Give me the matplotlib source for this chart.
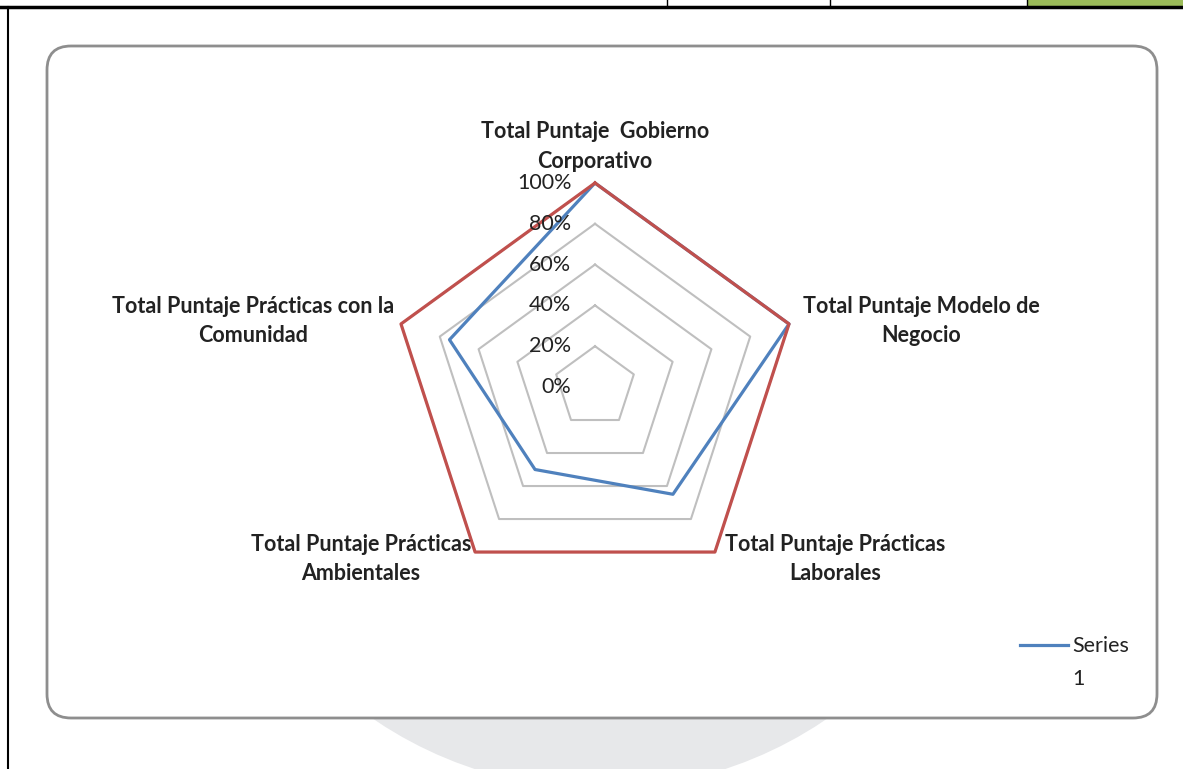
import numpy as np
import matplotlib.pyplot as plt
from matplotlib.patches import FancyBboxPatch, Circle, Rectangle

plt.rcParams['font.family'] = ['Lato', 'DejaVu Sans']

# chart data
categories = ['Total Puntaje  Gobierno\nCorporativo',
              'Total Puntaje Modelo de\nNegocio',
              'Total Puntaje Prácticas\nLaborales',
              'Total Puntaje Prácticas\nAmbientales',
              'Total Puntaje Prácticas con la\nComunidad']
series1 = [100, 100, 65, 50, 75]
series2 = [100, 100, 100, 100, 100]
ring_levels = [20, 40, 60, 80, 100]
tick_values = [0, 20, 40, 60, 80, 100]
tick_labels = ['0%', '20%', '40%', '60%', '80%', '100%']
legend_label = 'Series\n1'

W, H = 1183, 769
fig = plt.figure(figsize=(W / 100, H / 100), dpi=100)

# background / page decoration in pixel units
bg = fig.add_axes([0, 0, 1, 1], zorder=0)
bg.set_xlim(0, W)
bg.set_ylim(H, 0)
bg.axis('off')

wm = Circle((600, 387), 402, facecolor='#e7e8ea', edgecolor='none')
bg.add_patch(wm)
wm.set_clip_path(Rectangle((0, 718), W, H - 718, transform=bg.transData))

box = FancyBboxPatch((47, 46), 1110, 672, boxstyle='round,pad=0,rounding_size=24',
                     facecolor='white', edgecolor='#8e8e8e', linewidth=2)
bg.add_patch(box)

# table borders at the top of the page
bg.plot([0, W], [7, 7], color='black', lw=2.5)
bg.plot([8, 8], [7, H], color='black', lw=1.5)
for xv in [667, 830, 1027]:
    bg.plot([xv, xv], [0, 7], color='black', lw=1)
bg.add_patch(Rectangle((1028, 0), W - 1028, 5.8, facecolor='#9bbb59', edgecolor='none'))

# radar
cx, cy, rad = 595, 387, 204
ax = fig.add_axes([(cx - rad) / W, (H - cy - rad) / H, 2 * rad / W, 2 * rad / H],
                  projection='polar', zorder=2)
ax.set_theta_zero_location('N')
ax.set_theta_direction(-1)
ax.set_ylim(0, 100)
ax.axis('off')

n = len(categories)
theta = np.linspace(0, 2 * np.pi, n, endpoint=False)
theta_c = np.append(theta, theta[0])

for lvl in ring_levels:
    ax.plot(theta_c, [lvl] * (n + 1), color='#bfbfbf', lw=1.5, clip_on=False)

ax.plot(theta_c, series1 + series1[:1], color='#4f81bd', lw=2.3, clip_on=False)
ax.plot(theta_c, series2 + series2[:1], color='#c0504d', lw=2.3, clip_on=False)

for v, lab in zip(tick_values, tick_labels):
    ax.annotate(lab, xy=(0, v), xytext=(-17, 0), textcoords='offset points',
                ha='right', va='center', fontsize=15.5, color='#222222',
                annotation_clip=False)

label_pos = [((0, 8), 'center', 'bottom'),
             ((10, 2), 'left', 'center'),
             ((7, 13), 'left', 'top'),
             ((-3, 13), 'right', 'top'),
             ((-5, 2), 'right', 'center')]
for t, lab, (off, ha, va) in zip(theta, categories, label_pos):
    ax.annotate(lab, xy=(t, 100), xytext=off, textcoords='offset points',
                ha=ha, va=va, multialignment='center', fontsize=15.5,
                fontweight='bold', color='#222222', linespacing=1.5,
                annotation_clip=False)

# legend
bg.plot([1020, 1068], [645, 645], color='#4f81bd', lw=2.3)
bg.text(1072, 636, legend_label, ha='left', va='top', fontsize=15.5,
        color='#222222', linespacing=1.8)

fig.savefig('out.png', dpi=100)
